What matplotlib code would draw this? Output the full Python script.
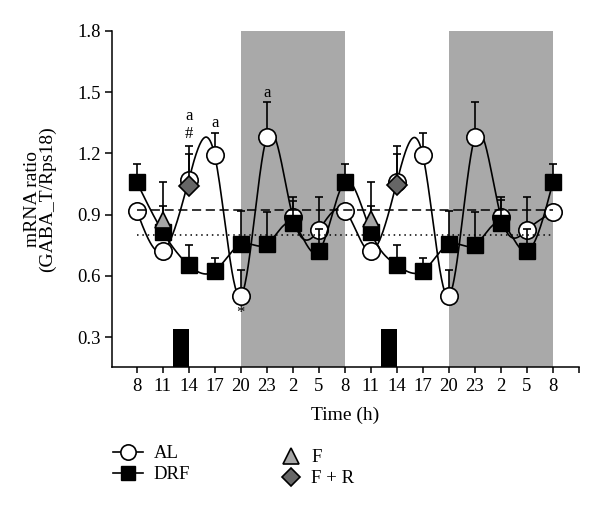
import numpy as np
import matplotlib
matplotlib.use("Agg")
import matplotlib.pyplot as plt
from matplotlib.lines import Line2D

plt.rcParams['font.family'] = ['Liberation Serif', 'DejaVu Serif']

# x positions are the sampling points (every 3 h, two days double-plotted)
hour_labels = ['8', '11', '14', '17', '20', '23', '2', '5',
               '8', '11', '14', '17', '20', '23', '2', '5', '8']

al_mean = [0.92, 0.72, 1.07, 1.19, 0.50, 1.28, 0.89, 0.825, 0.92,
           0.72, 1.06, 1.19, 0.50, 1.28, 0.89, 0.825, 0.913]
al_err = [0.0, 0.02, 0.166, 0.11, 0.13, 0.17, 0.095, 0.16, 0.0,
          0.02, 0.176, 0.11, 0.13, 0.17, 0.095, 0.16, 0.0]

drf_mean = [1.06, 0.816, 0.653, 0.624, 0.755, 0.755, 0.857, 0.72, 1.06,
            0.816, 0.653, 0.624, 0.755, 0.752, 0.86, 0.72, 1.06]
drf_err = [0.09, 0.125, 0.10, 0.066, 0.165, 0.16, 0.11, 0.11, 0.09,
           0.125, 0.10, 0.066, 0.165, 0.163, 0.11, 0.11, 0.09]

f_idx = [1, 9]
f_mean = [0.875, 0.88]
f_err = [0.185, 0.18]

fr_idx = [2, 10]
fr_mean = [1.04, 1.045]
fr_err = [0.156, 0.151]

dark_spans = [(4, 8), (12, 16)]
feeding_bars = [(1.4, 2.0), (9.4, 10.0)]
feeding_top = 0.338

al_mesor = 0.922
drf_mesor = 0.80

# (x index, y value, text)
marks = [(2, 1.385, 'a'), (2, 1.295, '#'), (3, 1.35, 'a'),
         (5, 1.497, 'a'), (4, 0.417, '*')]


def natural_spline(x, y, xs):
    x = np.asarray(x, float)
    y = np.asarray(y, float)
    n = len(x)
    h = np.diff(x)
    A = np.zeros((n, n))
    b = np.zeros(n)
    A[0, 0] = A[-1, -1] = 1
    for i in range(1, n - 1):
        A[i, i - 1] = h[i - 1]
        A[i, i] = 2 * (h[i - 1] + h[i])
        A[i, i + 1] = h[i]
        b[i] = 6 * ((y[i + 1] - y[i]) / h[i] - (y[i] - y[i - 1]) / h[i - 1])
    M = np.linalg.solve(A, b)
    k = np.clip(np.searchsorted(x, xs) - 1, 0, n - 2)
    hk = h[k]
    t1 = x[k + 1] - xs
    t0 = xs - x[k]
    return (M[k] * t1 ** 3 / (6 * hk) + M[k + 1] * t0 ** 3 / (6 * hk)
            + (y[k] / hk - M[k] * hk / 6) * t1
            + (y[k + 1] / hk - M[k + 1] * hk / 6) * t0)


fig = plt.figure(figsize=(6, 5.14), dpi=100)
ax = fig.add_axes([0.187, 0.2854, 0.778, 0.6549])

x = np.arange(len(hour_labels))
xs = np.linspace(0, len(x) - 1, 800)

for a, b in dark_spans:
    ax.axvspan(a, b, ymax=1, color='#a9a9a9', lw=0, zorder=0)
for a, b in feeding_bars:
    ax.bar((a + b) / 2, feeding_top - 0.153, width=b - a, bottom=0.153,
           color='black', zorder=1)

# AL
ax.plot(xs, natural_spline(x, al_mean, xs), color='black', lw=1.2, zorder=2)
ax.errorbar(x, al_mean, yerr=[np.zeros(len(x)), al_err], fmt='none',
            ecolor='black', elinewidth=1.2, capsize=3, capthick=1.2, zorder=2)
ax.plot(x, al_mean, 'o', ms=12.5, mfc='white', mec='black', mew=1.2, zorder=3)

ax.plot([0, 16], [al_mesor] * 2, color='black', lw=1.1, dashes=(6, 3), zorder=3.5)
ax.plot([0, 16], [drf_mesor] * 2, color='black', lw=1.1, dashes=(1, 2.5), zorder=3.5)

# DRF
ax.plot(xs, natural_spline(x, drf_mean, xs), color='black', lw=1.2, zorder=4)
ax.errorbar(x, drf_mean, yerr=[np.zeros(len(x)), drf_err], fmt='none',
            ecolor='black', elinewidth=1.2, capsize=3, capthick=1.2, zorder=4)
ax.plot(x, drf_mean, 's', ms=11, mfc='black', mec='black', zorder=5)

# F and F + R
ax.errorbar(f_idx, f_mean, yerr=[[0, 0], f_err], fmt='none',
            ecolor='black', elinewidth=1.2, capsize=3, capthick=1.2, zorder=6)
ax.plot(f_idx, f_mean, '^', ms=12, mfc='#a6a6a6', mec='black', mew=1.2, zorder=6)
ax.errorbar(fr_idx, fr_mean, yerr=[[0, 0], fr_err], fmt='none',
            ecolor='black', elinewidth=1.2, capsize=3, capthick=1.2, zorder=6)
ax.plot(fr_idx, fr_mean, 'D', ms=10, mfc='#666666', mec='black', mew=1.2, zorder=6)

for xi, yi, t in marks:
    ax.text(xi, yi, t, ha='center', va='center', fontsize=12, zorder=7)

ax.set_xlim(-0.94, 17)
ax.set_ylim(0.153, 1.8)
ax.set_yticks([0.3, 0.6, 0.9, 1.2, 1.5, 1.8])
ax.set_yticklabels(['0.3', '0.6', '0.9', '1.2', '1.5', '1.8'])
ax.set_xticks(list(x) + [17])
ax.set_xticklabels(hour_labels + [''])
ax.tick_params(axis='both', direction='out', width=1.1, labelsize=13.5)
ax.tick_params(axis='x', length=4, pad=4)
ax.tick_params(axis='y', length=5, pad=3)
for s in ['top', 'right']:
    ax.spines[s].set_visible(False)
for s in ['left', 'bottom']:
    ax.spines[s].set_linewidth(1.1)

ax.text(0.5, -0.1417, 'Time (h)', transform=ax.transAxes, ha='center',
        va='center', fontsize=14)
fig.text(40 / 600, 0.613, 'mRNA ratio\n(GABA_T/Rps18)', rotation=90,
         ha='center', va='center', fontsize=14, linespacing=0.9)

h1 = [Line2D([], [], color='black', lw=1.2, marker='o', ms=11, mfc='white', mec='black', mew=1.2),
      Line2D([], [], color='black', lw=1.2, marker='s', ms=10, mfc='black', mec='black')]
fig.legend(h1, ['AL', 'DRF'], loc='upper left', bbox_to_anchor=(112.7 / 600, 0.134),
           frameon=False, fontsize=13.5, handlelength=1.6, handletextpad=0.6,
           labelspacing=0.2, borderpad=0, borderaxespad=0)
h2 = [Line2D([], [], ls='none', marker='^', ms=11, mfc='#a6a6a6', mec='black', mew=1.2),
      Line2D([], [], ls='none', marker='D', ms=9, mfc='#666666', mec='black', mew=1.2)]
fig.legend(h2, ['F', 'F + R'], loc='upper left', bbox_to_anchor=(282.3 / 600, 0.126),
           frameon=False, fontsize=13.5, handlelength=0.95, handletextpad=0.6,
           labelspacing=0.2, borderpad=0, borderaxespad=0)

fig.savefig('out.png', dpi=100)
